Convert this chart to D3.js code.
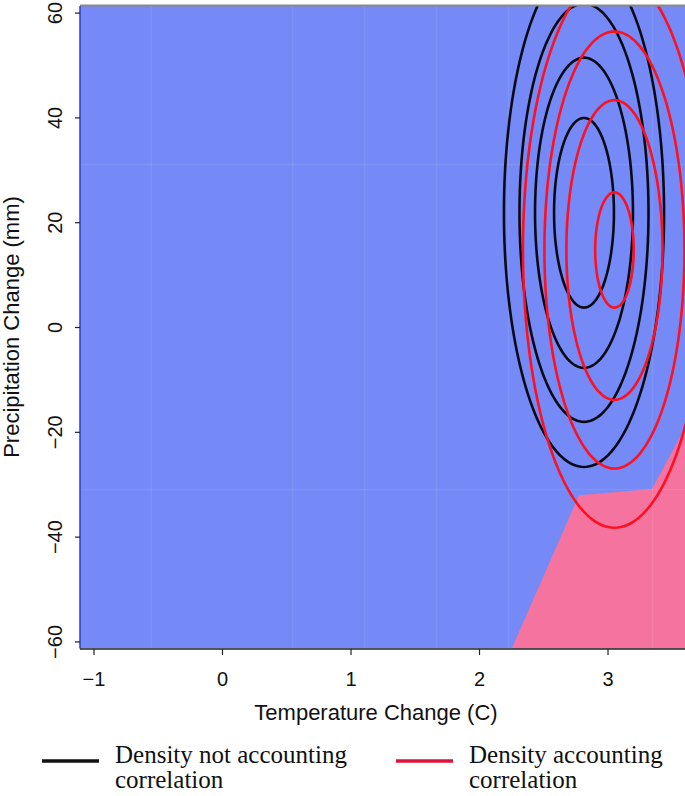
<!DOCTYPE html>
<html>
<head>
<meta charset="utf-8">
<script src="https://cdn.jsdelivr.net/npm/d3@7"></script>
<style>
  html, body { margin: 0; padding: 0; background: #fff; }
  svg { display: block; }
</style>
</head>
<body>
<div id="chart"></div>
<script>
// Contour plot: temperature vs precipitation change, two density fits

// ── Data ──────────────────────────────────────────────────────────────────────
var xTicks = [-1, 0, 1, 2, 3];
var yTicks = [-60, -40, -20, 0, 20, 40, 60];

// density not accounting correlation (black), contour half-axes in data units
var blackCenter = [2.817, 21.8];
var blackHalfW  = [0.233, 0.381, 0.502, 0.623];
var blackHalfH  = [18.1, 29.6, 39.9, 48.5];

// density accounting correlation (red)
var redCenter = [3.054, 14.7];
var redHalfW  = [0.150, 0.374, 0.545, 0.712];
var redHalfH  = [11.0, 28.6, 41.7, 53.0];

// pink region (bottom right), clipped to the panel
var pinkRegion = [[2.19, -65], [2.778, -32.1], [3.346, -30.9], [3.70, -14.9], [3.70, -65]];

// faint background grid lines
var gridX = [-0.55, 0.55, 1.11, 1.67, 2.23, 3.35];
var gridY = [-31, 31];

var legendLabels = [['Density not accounting', 'correlation'], ['Density accounting', 'correlation']];
var legendColors = ['#111', '#dc143c'];

(function() {

  var W = 685, H = 796;
  var L = 80, R = 685, T = 6, B = 648.5;

  var x = d3.scaleLinear().domain([-1.105, 3.603]).range([L, R]);
  var y = d3.scaleLinear().domain([-61.35, 61.26]).range([B, T]);

  var svg = d3.select('#chart').append('svg')
    .attr('width', W).attr('height', H)
    .style('background', '#fff');

  svg.append('defs').append('clipPath').attr('id', 'plotClip')
    .append('rect').attr('x', L).attr('y', T).attr('width', R - L).attr('height', B - T);

  var plot = svg.append('g').attr('clip-path', 'url(#plotClip)');

  // ── Background ──────────────────────────────────────────────────────────────
  plot.append('rect').attr('x', L).attr('y', T).attr('width', R - L).attr('height', B - T)
    .attr('fill', '#758af6');

  plot.append('path')
    .datum(pinkRegion)
    .attr('d', d3.line().x(function(d) { return x(d[0]); }).y(function(d) { return y(d[1]); }).curve(d3.curveLinearClosed))
    .attr('fill', '#f5739f');

  plot.selectAll('.gx').data(gridX).enter().append('line')
    .attr('x1', function(d) { return x(d); }).attr('x2', function(d) { return x(d); })
    .attr('y1', T).attr('y2', B)
    .attr('stroke', '#ffffff').attr('stroke-opacity', 0.08).attr('stroke-width', 1.5);

  plot.selectAll('.gy').data(gridY).enter().append('line')
    .attr('y1', function(d) { return y(d); }).attr('y2', function(d) { return y(d); })
    .attr('x1', L).attr('x2', R)
    .attr('stroke', '#ffffff').attr('stroke-opacity', 0.08).attr('stroke-width', 1.5);

  // ── Contours ────────────────────────────────────────────────────────────────
  function ellipsePts(c, hw, hh) {
    var pts = [];
    for (var i = 0; i < 180; i++) {
      var a = 2 * Math.PI * i / 180;
      pts.push([c[0] + hw * Math.cos(a), c[1] + hh * Math.sin(a)]);
    }
    return pts;
  }

  var ell = d3.line()
    .x(function(d) { return x(d[0]); })
    .y(function(d) { return y(d[1]); })
    .curve(d3.curveLinearClosed);

  plot.selectAll('.cb').data(blackHalfW).enter().append('path')
    .attr('d', function(d, i) { return ell(ellipsePts(blackCenter, d, blackHalfH[i])); })
    .attr('fill', 'none').attr('stroke', '#0a0a14').attr('stroke-width', 2.6);

  plot.selectAll('.cr').data(redHalfW).enter().append('path')
    .attr('d', function(d, i) { return ell(ellipsePts(redCenter, d, redHalfH[i])); })
    .attr('fill', 'none').attr('stroke', '#ff1020').attr('stroke-width', 2.6);

  // ── Frame ───────────────────────────────────────────────────────────────────
  svg.append('line').attr('x1', L).attr('x2', R).attr('y1', T - 0.5).attr('y2', T - 0.5)
    .attr('stroke', '#8a8a8a').attr('stroke-width', 2);
  svg.append('line').attr('x1', L).attr('x2', L).attr('y1', T).attr('y2', B)
    .attr('stroke', '#2f3fbf').attr('stroke-width', 1.5);
  svg.append('line').attr('x1', L).attr('x2', R).attr('y1', B + 0.5).attr('y2', B + 0.5)
    .attr('stroke', '#222').attr('stroke-width', 1.5);

  // ── Axes ────────────────────────────────────────────────────────────────────
  var font = 'Liberation Sans, Arial, Helvetica, sans-serif';

  var xAxis = svg.append('g').attr('transform', 'translate(0,' + (B + 0.5) + ')')
    .call(d3.axisBottom(x).tickValues(xTicks).tickSize(6).tickFormat(d3.format('d')));
  xAxis.select('.domain').remove();
  xAxis.selectAll('line').attr('stroke', '#222').attr('stroke-width', 1.2);
  xAxis.selectAll('text').attr('font-family', font).attr('font-size', 20).attr('fill', '#111')
    .attr('dy', null).attr('y', 37);

  var yAxis = svg.append('g').attr('transform', 'translate(' + L + ',0)')
    .call(d3.axisLeft(y).tickValues(yTicks).tickSize(5).tickFormat(d3.format('d')));
  yAxis.select('.domain').remove();
  yAxis.selectAll('line').attr('stroke', '#222').attr('stroke-width', 1.2);
  yAxis.selectAll('text')
    .attr('font-family', font).attr('font-size', 20).attr('fill', '#111')
    .attr('x', null).attr('dy', null).attr('text-anchor', 'middle')
    .attr('transform', 'translate(-18,0) rotate(-90)');

  svg.append('text')
    .attr('x', 376).attr('y', 720)
    .attr('text-anchor', 'middle').attr('font-family', font).attr('font-size', 22).attr('fill', '#111')
    .text('Temperature Change (C)');

  svg.append('text')
    .attr('transform', 'translate(19,' + y(0) + ') rotate(-90)')
    .attr('text-anchor', 'middle').attr('font-family', font).attr('font-size', 22).attr('fill', '#111')
    .text('Precipitation Change (mm)');

  // ── Legend ──────────────────────────────────────────────────────────────────
  var legX = [42, 396];
  legendLabels.forEach(function(lines, i) {
    var g = svg.append('g').attr('transform', 'translate(' + legX[i] + ',0)');
    g.append('line').attr('x1', 0).attr('x2', 57).attr('y1', 761).attr('y2', 761)
      .attr('stroke', legendColors[i]).attr('stroke-width', 3.5);
    lines.forEach(function(t, j) {
      g.append('text').attr('x', 73).attr('y', 763 + j * 25)
        .attr('font-family', 'Liberation Serif, Times New Roman, serif').attr('font-size', 25)
        .attr('fill', '#111').text(t);
    });
  });

})();
</script>
</body>
</html>
